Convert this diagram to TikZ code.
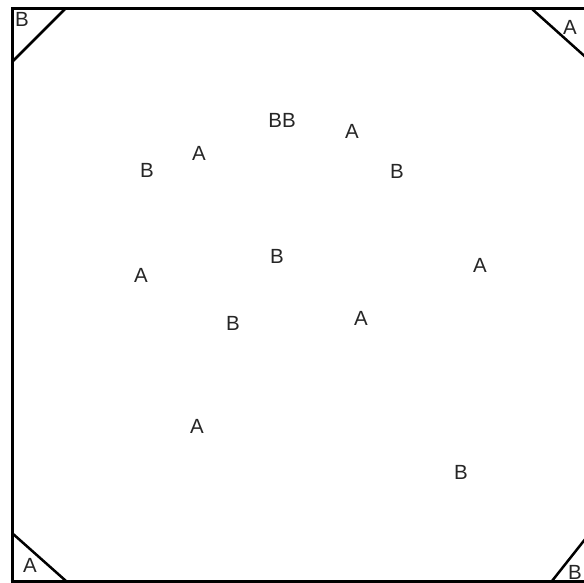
\documentclass[tikz,border=0pt]{standalone}
\usepackage{fontspec}
\setmainfont{Liberation Sans}
\begin{document}
\begin{tikzpicture}[x=1pt,y=-1pt,
  lbl/.style={font=\fontsize{20.5}{20.5}\selectfont, inner sep=0pt, text=black!85},
  edge/.style={line width=3pt, line cap=round}]
\useasboundingbox (0,0) rectangle (584,583);
\begin{scope}
\clip (0,0) rectangle (584,583);
\fill[white] (0,0) rectangle (584,583);
% frame
\draw[edge, line cap=butt] (12,9) -- (600,9);
\draw[edge, line cap=butt] (12,7.5) -- (12,600);
\draw[edge, line cap=butt] (10.5,581) -- (600,581);
% corner diagonals
\draw[line width=2.5pt] (12,62) -- (65,9);
\draw[line width=2.5pt] (532,9) -- (590,61);
\draw[line width=2.5pt] (12,533) -- (66,581);
\draw[line width=2.5pt] (552,581) -- (590,533);
\end{scope}
% corner labels
\node[lbl] (c1) at (22,19) {B};
\node[lbl] (c2) at (570,27) {A};
\node[lbl] (c3) at (30,565) {A};
\node[lbl] (c4) at (575,572) {B};
% interior labels
\node[lbl] (n1) at (282,120) {BB};
\node[lbl] (n2) at (352,131) {A};
\node[lbl] (n3) at (147,170) {B};
\node[lbl] (n4) at (199,153) {A};
\node[lbl] (n5) at (397,171) {B};
\node[lbl] (n6) at (277,256) {B};
\node[lbl] (n7) at (141,275) {A};
\node[lbl] (n8) at (480,265) {A};
\node[lbl] (n9) at (233,323) {B};
\node[lbl] (n10) at (361,318) {A};
\node[lbl] (n11) at (197,426) {A};
\node[lbl] (n12) at (461,472) {B};
\end{tikzpicture}
\end{document}
